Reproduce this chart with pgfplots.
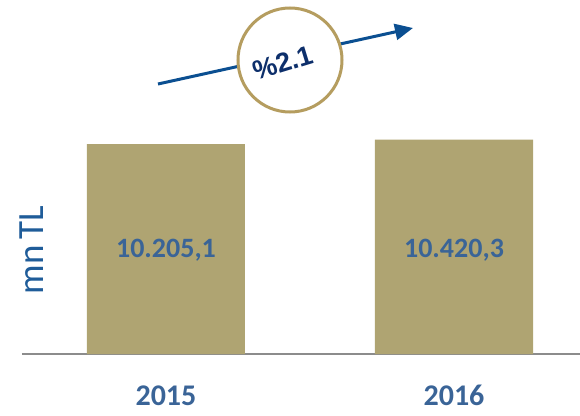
\documentclass[border=0pt]{standalone}
\usepackage{pgfplots}
\pgfplotsset{compat=1.18}
\usepackage{fontspec}
\setmainfont{Carlito}
\newfontfamily\arialfont{Liberation Sans}
\usetikzlibrary{arrows.meta}
\definecolor{barcol}{HTML}{AFA472}
\definecolor{lblblue}{HTML}{3A6497}
\definecolor{ylblue}{HTML}{1F5C99}
\definecolor{arrowblue}{HTML}{0B4F91}
\definecolor{ringcol}{HTML}{B59D5F}
\definecolor{navy}{HTML}{0D2F6B}
\definecolor{axgray}{HTML}{8C8C8C}
\begin{document}
\begin{tikzpicture}
\begin{axis}[
  scale only axis,
  width=558pt, height=354pt,
  xmin=-0.5, xmax=1.4375,
  ymin=0, ymax=17203,
  axis x line*=bottom,
  axis y line=none,
  x axis line style={draw=axgray, line width=1.5pt, -},
  xtick={0,1},
  xticklabels={2015,2016},
  major tick length=0pt,
  xticklabel style={font=\fontsize{30}{34}\selectfont\bfseries, text=lblblue, anchor=base, yshift=-51pt},
  clip=false,
  ybar, bar width=158pt, bar shift=0pt,
]
\addplot[fill=barcol, draw=none] coordinates {(0,10205.1) (1,10420.3)};
\node[font=\fontsize{28}{32}\selectfont\bfseries, text=lblblue] at (axis cs:0,5060) {10.205,1};
\node[font=\fontsize{28}{32}\selectfont\bfseries, text=lblblue] at (axis cs:1,5060) {10.420,3};
\node[font=\fontsize{37}{40}\selectfont, text=ylblue, rotate=90] at (rel axis cs:0.0179,0.294) {mn\,TL};
\draw[arrowblue, line width=3pt, -{Triangle[length=18pt,width=16pt]}] (rel axis cs:0.2437,0.7627) -- (rel axis cs:0.7007,0.9209);
\draw[ringcol, line width=3pt, fill=white] (rel axis cs:0.4803,0.8305) circle[radius=52pt];
\node[font=\arialfont\fontsize{27}{30}\selectfont\bfseries, text=navy, rotate=17, inner sep=0pt] at (rel axis cs:0.4677,0.822) {\%2.1};
\coordinate (bbA) at (rel axis cs:-0.0394,-0.1751);
\coordinate (bbB) at (rel axis cs:1,1);
\end{axis}
\pgfresetboundingbox
\useasboundingbox (bbA) rectangle (bbB);
\end{tikzpicture}
\end{document}
